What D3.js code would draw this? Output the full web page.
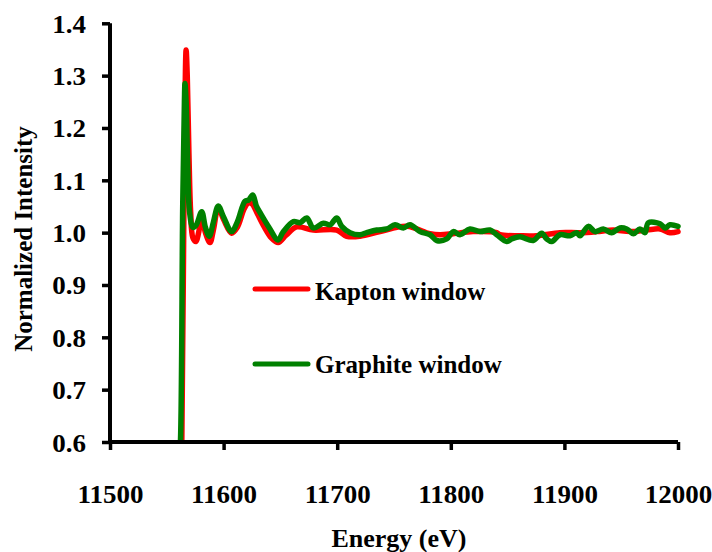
<!DOCTYPE html>
<html>
<head>
<meta charset="utf-8">
<script src="https://cdn.jsdelivr.net/npm/d3@7"></script>
<style>
  html, body { margin: 0; padding: 0; background: #fff; }
  svg { display: block; }
  text { font-family: "Liberation Serif", "Times New Roman", serif; font-weight: bold; fill: #000; }
</style>
</head>
<body>
<svg id="chart" width="712" height="552"></svg>
<script>
// Co K-edge XANES, normalized, measured through two window materials
const kaptonEnergy = [11563, 11564.5, 11566, 11567, 11568, 11569.5, 11571, 11573, 11575.7, 11578, 11580.7, 11584, 11588, 11591, 11595.3, 11600, 11607, 11612, 11618, 11621.7, 11625, 11630, 11636, 11642, 11648, 11655, 11664.3, 11679, 11699.6, 11708.4, 11720.1, 11737.7, 11761.2, 11781.7, 11790.5, 11802, 11819.5, 11840.4, 11843.3, 11860.9, 11875.6, 11896.1, 11913.7, 11928.4, 11943, 11957.7, 11972.4, 11984.2, 11993, 12000];
const kaptonValue  = [0.55, 0.9, 1.25, 1.349, 1.30, 1.15, 1.04, 0.99, 0.983, 1.0, 1.031, 1.0, 0.981, 1.005, 1.047, 1.025, 0.999, 1.01, 1.045, 1.057, 1.055, 1.035, 1.01, 0.99, 0.981, 0.995, 1.011, 1.005, 1.005, 0.993, 0.993, 1.002, 1.012, 0.998, 0.996, 0.998, 1.002, 1.0, 0.996, 0.994, 0.994, 1.0, 1.0, 1.002, 1.005, 1.002, 1.005, 1.007, 1.0, 1.002];

const graphiteEnergy = [11560.5, 11562, 11564, 11565.5, 11566, 11567, 11568.5, 11570, 11573, 11576, 11580.7, 11584, 11587.4, 11591, 11595.3, 11600, 11607, 11612, 11618.8, 11622, 11625.6, 11629, 11633, 11640, 11648, 11652, 11661.4, 11667.3, 11673.2, 11679, 11687.8, 11693.7, 11699.6, 11704, 11711.3, 11720.1, 11726, 11734.8, 11743.6, 11750.9, 11758.2, 11764.1, 11772.9, 11781.7, 11787.6, 11796.4, 11802.2, 11808.1, 11816.9, 11825.7, 11834.5, 11840.4, 11849.2, 11853.6, 11860.9, 11872.6, 11880, 11884.4, 11888.8, 11896.1, 11904.9, 11910.8, 11913.7, 11921, 11926.9, 11934.2, 11941.6, 11948.9, 11954.8, 11960.7, 11966.5, 11970.9, 11973.9, 11984.2, 11988.6, 11993, 12000];
const graphiteValue  = [0.55, 0.6, 1.05, 1.25, 1.285, 1.25, 1.12, 1.04, 1.01, 1.015, 1.04, 1.01, 0.993, 1.02, 1.051, 1.03, 1.002, 1.02, 1.06, 1.062, 1.072, 1.05, 1.035, 1.01, 0.986, 1.0, 1.021, 1.019, 1.028, 1.009, 1.018, 1.015, 1.028, 1.012, 1.0, 0.996, 1.0, 1.005, 1.007, 1.015, 1.009, 1.015, 1.002, 0.996, 0.985, 0.988, 1.002, 0.996, 1.007, 1.002, 1.005, 0.996, 0.983, 0.988, 0.992, 0.985, 0.999, 0.988, 0.983, 0.996, 0.994, 1.0, 0.994, 1.012, 1.002, 1.007, 1.0, 1.009, 1.007, 0.998, 1.007, 1.0, 1.019, 1.017, 1.009, 1.015, 1.012];

const xTicks = [11500, 11600, 11700, 11800, 11900, 12000];
const yTicks = [0.6, 0.7, 0.8, 0.9, 1.0, 1.1, 1.2, 1.3, 1.4];
const seriesNames = ["Kapton window", "Graphite window"];
const seriesColors = ["#ff0000", "#008000"];

const svg = d3.select("#chart");
const plotLeft = 110, plotRight = 678, plotTop = 23.3, plotBottom = 442;

const x = d3.scaleLinear().domain([11500, 12000]).range([plotLeft, plotRight]);
const y = d3.scaleLinear().domain([0.6, 1.4]).range([plotBottom, plotTop]);

svg.append("clipPath").attr("id", "plotClip")
  .append("rect").attr("x", plotLeft).attr("y", 0).attr("width", plotRight - plotLeft + 10).attr("height", plotBottom);

const line = d3.line().x(d => x(d[0])).y(d => y(d[1])).curve(d3.curveCatmullRom.alpha(0.5));

const series = [
  d3.zip(kaptonEnergy, kaptonValue),
  d3.zip(graphiteEnergy, graphiteValue)
];

const plot = svg.append("g").attr("clip-path", "url(#plotClip)");
series.forEach((s, i) => {
  plot.append("path")
    .datum(s)
    .attr("d", line)
    .attr("fill", "none")
    .attr("stroke", seriesColors[i])
    .attr("stroke-width", 5.5)
    .attr("stroke-linejoin", "round")
    .attr("stroke-linecap", "round");
});

// Axes
const xAxis = d3.axisBottom(x).tickValues(xTicks).tickSize(8).tickFormat(d3.format("d"));
const yAxis = d3.axisLeft(y).tickValues(yTicks).tickSize(8).tickFormat(d3.format(".1f"));

const gx = svg.append("g").attr("transform", `translate(0,${plotBottom})`).call(xAxis);
const gy = svg.append("g").attr("transform", `translate(${plotLeft},0)`).call(yAxis);

gx.select(".domain").attr("d", `M${plotLeft},0H${plotRight}`);
gy.select(".domain").attr("d", `M0,${plotBottom}V${plotTop}`);
[gx, gy].forEach(g => {
  g.attr("font-family", null).attr("font-size", null);
  g.select(".domain").attr("stroke", "#000").attr("stroke-width", 4);
  g.selectAll(".tick line").attr("stroke", "#000").attr("stroke-width", 3.5);
  g.selectAll(".tick text").attr("font-size", 25).attr("fill", "#000");
});
gx.selectAll(".tick text").attr("y", 0).attr("dy", null).attr("transform", "translate(0,61)");
gy.selectAll(".tick text").attr("x", -24).attr("dy", null).attr("y", 9);

// Tick labels are set slightly wide
svg.selectAll(".tick text").each(function () {
  const w = this.getComputedTextLength();
  d3.select(this).attr("textLength", w * 1.08).attr("lengthAdjust", "spacingAndGlyphs");
});

// Axis titles
svg.append("text")
  .attr("x", 399).attr("y", 547)
  .attr("text-anchor", "middle").attr("font-size", 26)
  .text("Energy (eV)");

svg.append("text")
  .attr("transform", "translate(32,239) rotate(-90)")
  .attr("text-anchor", "middle").attr("font-size", 25)
  .text("Normalized Intensity");

// Legend
const legendRows = [289, 364];
seriesNames.forEach((name, i) => {
  const g = svg.append("g");
  g.append("line")
    .attr("x1", 255).attr("x2", 308)
    .attr("y1", legendRows[i]).attr("y2", legendRows[i])
    .attr("stroke", seriesColors[i]).attr("stroke-width", 5).attr("stroke-linecap", "round");
  g.append("text")
    .attr("x", 315).attr("y", legendRows[i] + (i === 0 ? 11 : 8.5))
    .attr("font-size", 25)
    .text(name);
});
</script>
</body>
</html>
